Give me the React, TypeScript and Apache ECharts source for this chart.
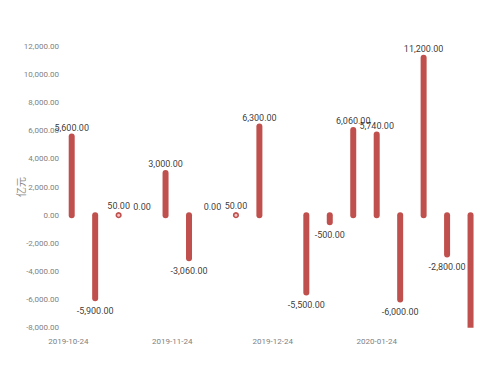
import React, { useEffect, useRef } from "react";
import * as echarts from "echarts";

const weekDates = [
  "2019-10-25", "2019-11-01", "2019-11-08", "2019-11-15", "2019-11-22", "2019-11-29",
  "2019-12-06", "2019-12-13", "2019-12-20", "2019-12-27", "2020-01-03", "2020-01-10",
  "2020-01-17", "2020-01-24", "2020-01-31", "2020-02-07", "2020-02-14", "2020-02-21",
];
const netValues: (number | null)[] = [
  5600, -5900, 50, 0, 3000, -3060, 0, 50, 6300, null, -5500, -500, 6060, 5740, -6000, 11200, -2800, -8700,
];
const hiddenLabelIndex = [17];
const xTickLabels = ["2019-10-24", "2019-11-24", "2019-12-24", "2020-01-24"];
const xRange = ["2019-10-23", "2020-02-24"];
const yMin = -8000;
const yMax = 12000;
const yStep = 2000;
const unitName = "亿元";

const toTs = (s: string) => {
  const [y, m, d] = s.split("-").map(Number);
  return new Date(y, m - 1, d).getTime();
};
const pad = (n: number) => (n < 10 ? "0" + n : "" + n);
const fmtDate = (v: number) => {
  const d = new Date(v);
  return `${d.getFullYear()}-${pad(d.getMonth() + 1)}-${pad(d.getDate())}`;
};
const fmtNum = (v: number) =>
  v.toLocaleString("en-US", { minimumFractionDigits: 2, maximumFractionDigits: 2 });

const RED = "#c0504d";
const FONT = "Roboto, 'Liberation Sans', sans-serif";

export default function App() {
  const ref = useRef<HTMLDivElement>(null);
  useEffect(() => {
    if (!ref.current) return;
    const chart = echarts.init(ref.current, undefined, { renderer: "svg" });

    const barData = weekDates.map((d, i) => [toTs(d), netValues[i] === null ? NaN : netValues[i]]);
    const labelData = weekDates
      .map((d, i) => ({ i, ts: toTs(d), v: netValues[i] }))
      .filter((o) => o.v !== null && !hiddenLabelIndex.includes(o.i))
      .map((o) => ({
        value: [o.ts, o.v],
        label: {
          position: (o.v as number) < 0 ? "bottom" : "top",
          distance: (o.v as number) < 0 ? 8 : 4,
        },
      }));

    chart.setOption({
      animation: false,
      grid: { left: 65, right: 8.4, top: 46.4, bottom: 38.3, outerBoundsMode: "none", containLabel: false },
      xAxis: {
        type: "value",
        min: toTs(xRange[0]),
        max: toTs(xRange[1]),
        scale: true,
        axisLine: { show: false },
        axisTick: { show: false },
        splitLine: { show: false },
        axisLabel: {
          customValues: xTickLabels.map(toTs),
          formatter: (v: number) => fmtDate(v),
          color: "#7f7f7f",
          fontSize: 8,
          fontFamily: FONT,
          margin: 10,
        },
      },
      yAxis: {
        type: "value",
        min: yMin,
        max: yMax,
        interval: yStep,
        name: unitName,
        nameLocation: "middle",
        nameRotate: 90,
        nameGap: 40,
        nameMoveOverlap: false,
        nameTextStyle: { color: "#8c8c8c", fontSize: 10, fontFamily: "'Noto Sans CJK SC', sans-serif" },
        axisLine: { show: false },
        axisTick: { show: false },
        splitLine: { show: false },
        axisLabel: {
          formatter: (v: number) => fmtNum(v),
          color: "#7f7f7f",
          fontSize: 8,
          fontFamily: FONT,
          margin: 6,
        },
      },
      series: [
        {
          type: "custom",
          data: barData,
          encode: { x: 0, y: 1 },
          clip: true,
          renderItem: (params: any, api: any) => {
            const x = api.value(0);
            const v = api.value(1);
            if (v === null || isNaN(v) || v === 0) return null;
            const p0 = api.coord([x, 0]);
            const p1 = api.coord([x, v]);
            if (Math.abs(p1[1] - p0[1]) < 2) {
              return {
                type: "circle",
                shape: { cx: p0[0], cy: p0[1], r: 2.3 },
                style: { fill: "#f2c4c3", stroke: RED, lineWidth: 1.6 },
              };
            }
            return {
              type: "line",
              shape: { x1: p0[0], y1: p0[1], x2: p1[0], y2: p1[1] },
              style: { stroke: RED, lineWidth: 6, lineCap: "round" },
            };
          },
        },
        {
          type: "scatter",
          data: labelData,
          symbol: "circle",
          symbolSize: 0.1,
          itemStyle: { color: "rgba(0,0,0,0)" },
          silent: true,
          label: {
            show: true,
            color: "#000",
            fontSize: 9,
            fontFamily: FONT,
            formatter: (p: any) => fmtNum(p.value[1]),
          },
        },
      ],
    });
    return () => chart.dispose();
  }, []);
  return (
    <div
      ref={ref}
      style={{ position: "absolute", left: 0, top: 0, width: 489, height: 366 }}
    />
  );
}
